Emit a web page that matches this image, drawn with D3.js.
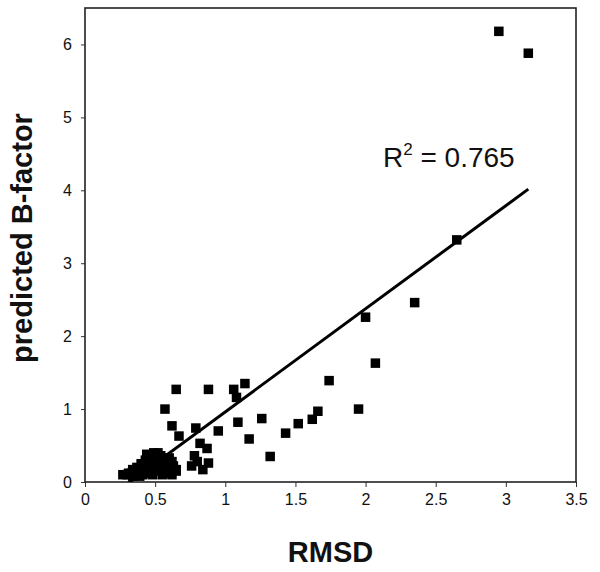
<!DOCTYPE html>
<html>
<head>
<meta charset="utf-8">
<script src="https://cdn.jsdelivr.net/npm/d3@7"></script>
<style>
  html, body { margin: 0; padding: 0; background: #fff; }
  svg { display: block; font-family: "Liberation Sans", Arial, sans-serif; }
</style>
</head>
<body>
<svg id="chart" width="600" height="572"></svg>
<script>
// ---- data ----
const rmsd = [
  2.95, 3.16, 2.65, 2.35, 2.00, 2.07, 1.95, 1.74, 1.66, 1.62, 1.52, 1.43, 1.32,
  1.26, 1.17, 1.09, 1.14, 1.08, 1.06, 0.88, 0.65, 0.57, 0.62, 0.67, 0.79, 0.95,
  0.82, 0.87, 0.78, 0.80, 0.88, 0.76, 0.84, 0.65,
  0.27, 0.31, 0.34, 0.37, 0.40, 0.43, 0.46, 0.49, 0.52, 0.54, 0.57, 0.60, 0.63,
  0.65, 0.62, 0.55, 0.48, 0.41, 0.35, 0.38, 0.45, 0.52, 0.58, 0.42, 0.48, 0.55,
  0.60, 0.46, 0.52, 0.57, 0.49, 0.53, 0.50, 0.44, 0.58, 0.40, 0.51, 0.47,
  0.55, 0.60, 0.62, 0.45, 0.36, 0.33, 0.30, 0.44, 0.56, 0.61, 0.34, 0.39
];
const bfactor = [
  6.18, 5.88, 3.32, 2.46, 2.26, 1.63, 1.00, 1.39, 0.97, 0.86, 0.80, 0.67, 0.35,
  0.87, 0.59, 0.82, 1.35, 1.16, 1.27, 1.27, 1.27, 1.00, 0.77, 0.63, 0.74, 0.70,
  0.53, 0.46, 0.36, 0.28, 0.26, 0.22, 0.17, 0.17,
  0.10, 0.12, 0.17, 0.20, 0.25, 0.30, 0.35, 0.40, 0.40, 0.36, 0.32, 0.27, 0.22,
  0.15, 0.10, 0.10, 0.10, 0.10, 0.10, 0.15, 0.15, 0.15, 0.15, 0.20, 0.20, 0.20,
  0.20, 0.25, 0.25, 0.25, 0.30, 0.30, 0.35, 0.12, 0.12, 0.18, 0.22, 0.28,
  0.28, 0.33, 0.28, 0.20, 0.14, 0.12, 0.10, 0.38, 0.18, 0.12, 0.08, 0.08
];
const xTicks = [0, 0.5, 1, 1.5, 2, 2.5, 3, 3.5];
const yTicks = [0, 1, 2, 3, 4, 5, 6];
const trendSlope = 1.414;
const trendIntercept = -0.452;
const rSquared = "0.765";
const xTitle = "RMSD";
const yTitle = "predicted B-factor";

// ---- layout ----
const pL = 85, pR = 576, pT = 8, pB = 482;
const svg = d3.select("#chart");

const x = d3.scaleLinear().domain([0, 3.5]).range([pL, pR]);
const y = d3.scaleLinear().domain([0, 6.5]).range([pB, pT]);

const points = rmsd.map((v, i) => ({ x: v, y: bfactor[i] }));

// clip
svg.append("defs").append("clipPath").attr("id", "plotclip")
  .append("rect").attr("x", pL).attr("y", pT)
  .attr("width", pR - pL).attr("height", pB - pT);

// axes
const xAxis = d3.axisBottom(x).tickValues(xTicks).tickSize(5).tickPadding(7)
  .tickFormat(d => String(d));
const gx = svg.append("g").attr("transform", `translate(0,${pB})`).call(xAxis);
gx.select(".domain").remove();
gx.selectAll(".tick line").attr("stroke", "#333").attr("stroke-width", 1);
gx.selectAll(".tick text").attr("font-size", 16).attr("fill", "#111")
  .attr("font-family", "Liberation Sans, Arial, sans-serif");

const yAxis = d3.axisLeft(y).tickValues(yTicks).tickSize(4).tickPadding(9)
  .tickFormat(d => String(d));
const gy = svg.append("g").attr("transform", `translate(${pL},0)`).call(yAxis);
gy.select(".domain").remove();
gy.selectAll(".tick line").attr("stroke", "#333").attr("stroke-width", 1);
gy.selectAll(".tick text").attr("font-size", 16).attr("fill", "#111")
  .attr("font-family", "Liberation Sans, Arial, sans-serif");

// frame
svg.append("rect").attr("x", pL).attr("y", pT)
  .attr("width", pR - pL).attr("height", pB - pT)
  .attr("fill", "none").attr("stroke", "#222").attr("stroke-width", 1.6);

// trend line
const xMin = d3.min(rmsd), xMax = d3.max(rmsd);
const line = d3.line().x(d => x(d)).y(d => y(trendSlope * d + trendIntercept));
svg.append("path").attr("clip-path", "url(#plotclip)")
  .datum([xMin, xMax]).attr("d", line)
  .attr("fill", "none").attr("stroke", "#000").attr("stroke-width", 3);

// points (drawn over the trend line)
svg.append("g").attr("clip-path", "url(#plotclip)")
  .selectAll("rect").data(points).join("rect")
  .attr("x", d => x(d.x) - 4.75).attr("y", d => y(d.y) - 4.75)
  .attr("width", 9.5).attr("height", 9.5).attr("fill", "#000");

// R^2 label
const rt = svg.append("text").attr("x", 383).attr("y", 167)
  .attr("font-size", 28).attr("fill", "#111");
rt.append("tspan").text("R");
rt.append("tspan").attr("font-size", 17).attr("dy", -12).text("2");
rt.append("tspan").attr("dy", 12).text(" = " + rSquared);

// axis titles
svg.append("text").attr("x", (pL + pR) / 2).attr("y", 562)
  .attr("text-anchor", "middle").attr("font-size", 29).attr("font-weight", "bold")
  .attr("fill", "#111").text(xTitle);
svg.append("text").attr("transform", `translate(32,238) rotate(-90)`)
  .attr("text-anchor", "middle").attr("font-size", 29).attr("font-weight", "bold")
  .attr("fill", "#111").text(yTitle);
</script>
</body>
</html>
